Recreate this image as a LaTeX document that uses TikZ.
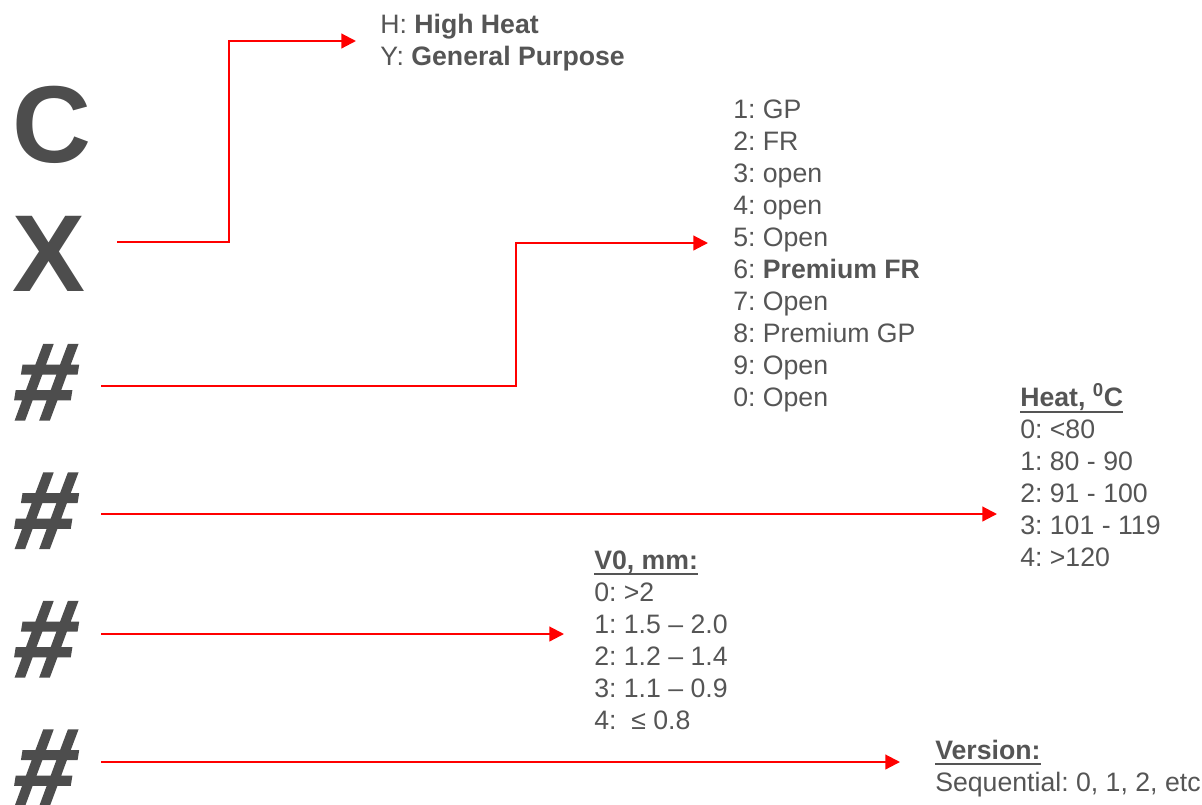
\documentclass[tikz,border=0pt]{standalone}
\usepackage{fontspec}
\setmainfont{Liberation Sans}
\newfontfamily\hashfont[FakeSlant=0.16,FakeBold=2]{Liberation Sans}
\usetikzlibrary{arrows.meta}
\definecolor{txt}{HTML}{555555}
\definecolor{bigc}{HTML}{4D4D4D}
\definecolor{arrred}{HTML}{FF0000}
\newcommand\uln[1]{\setbox0\hbox{#1}\rlap{\rule[-4.5pt]{\wd0}{1.5pt}}\box0}
\frenchspacing
\begin{document}
\begin{tikzpicture}[x=0.75pt,y=-0.75pt,
  bigl/.style={anchor=base west, inner sep=0pt, font=\fontsize{82}{82}\selectfont\bfseries, text=bigc},
  hashl/.style={bigl, font=\hashfont\fontsize{82}{82}\selectfont\bfseries},
  info/.style={anchor=north west, inner sep=0pt, align=left, font=\fontsize{20}{24}\selectfont, text=txt},
  arr/.style={draw=arrred, line width=1.6pt, -{Triangle[length=11pt,width=11pt]}}]
\useasboundingbox (0,0) rectangle (1202,804);
% big code letters
\node[bigl] (lC) at (12,162.5) {C};
\node[bigl] (lX) at (12,291) {X};
\node[hashl] (h1) at (10,419.5) {\#};
\node[hashl] (h2) at (10,548) {\#};
\node[hashl] (h3) at (10,676.5) {\#};
\node[hashl] (h4) at (10,805) {\#};
% info blocks
\node[info] (hy) at (380,10.6) {\strut H: \textbf{High Heat}\\Y: \textbf{General Purpose}};
\node[info] (num) at (733,95.6) {\strut 1: GP\\2: FR\\3: open\\4: open\\5: Open\\6: \textbf{Premium FR}\\7: Open\\8: Premium GP\\9: Open\\0: Open};
\node[info] (heat) at (1020,383.6) {\strut\uln{\textbf{Heat, \textsuperscript{0}C}}\\0: <80\\1: 80 - 90\\2: 91 - 100\\3: 101 - 119\\4: >120};
\node[info] (vo) at (594,546.6) {\strut\uln{\textbf{V0, mm:}}\\0: >2\\1: 1.5 – 2.0\\2: 1.2 – 1.4\\3: 1.1 – 0.9\\4: \ ≤ 0.8};
\node[info] (ver) at (935,736.6) {\strut\uln{\textbf{Version:}}\\Sequential: 0, 1, 2, etc};
% connector ends
\coordinate (sX) at (117,242);
\coordinate (tX) at (356,41);
\coordinate (s1) at (101,386);
\coordinate (t1) at (708,243);
\coordinate (s2) at (101,514);
\coordinate (t2) at (997,514);
\coordinate (s3) at (101,634);
\coordinate (t3) at (564,634);
\coordinate (s4) at (101,762);
\coordinate (t4) at (900,762);
% connectors
\draw[arr] (sX) -- (229,242) -- (229,41) -- (tX);
\draw[arr] (s1) -- (516,386) -- (516,243) -- (t1);
\draw[arr] (s2) -- (t2);
\draw[arr] (s3) -- (t3);
\draw[arr] (s4) -- (t4);
\end{tikzpicture}
\end{document}
